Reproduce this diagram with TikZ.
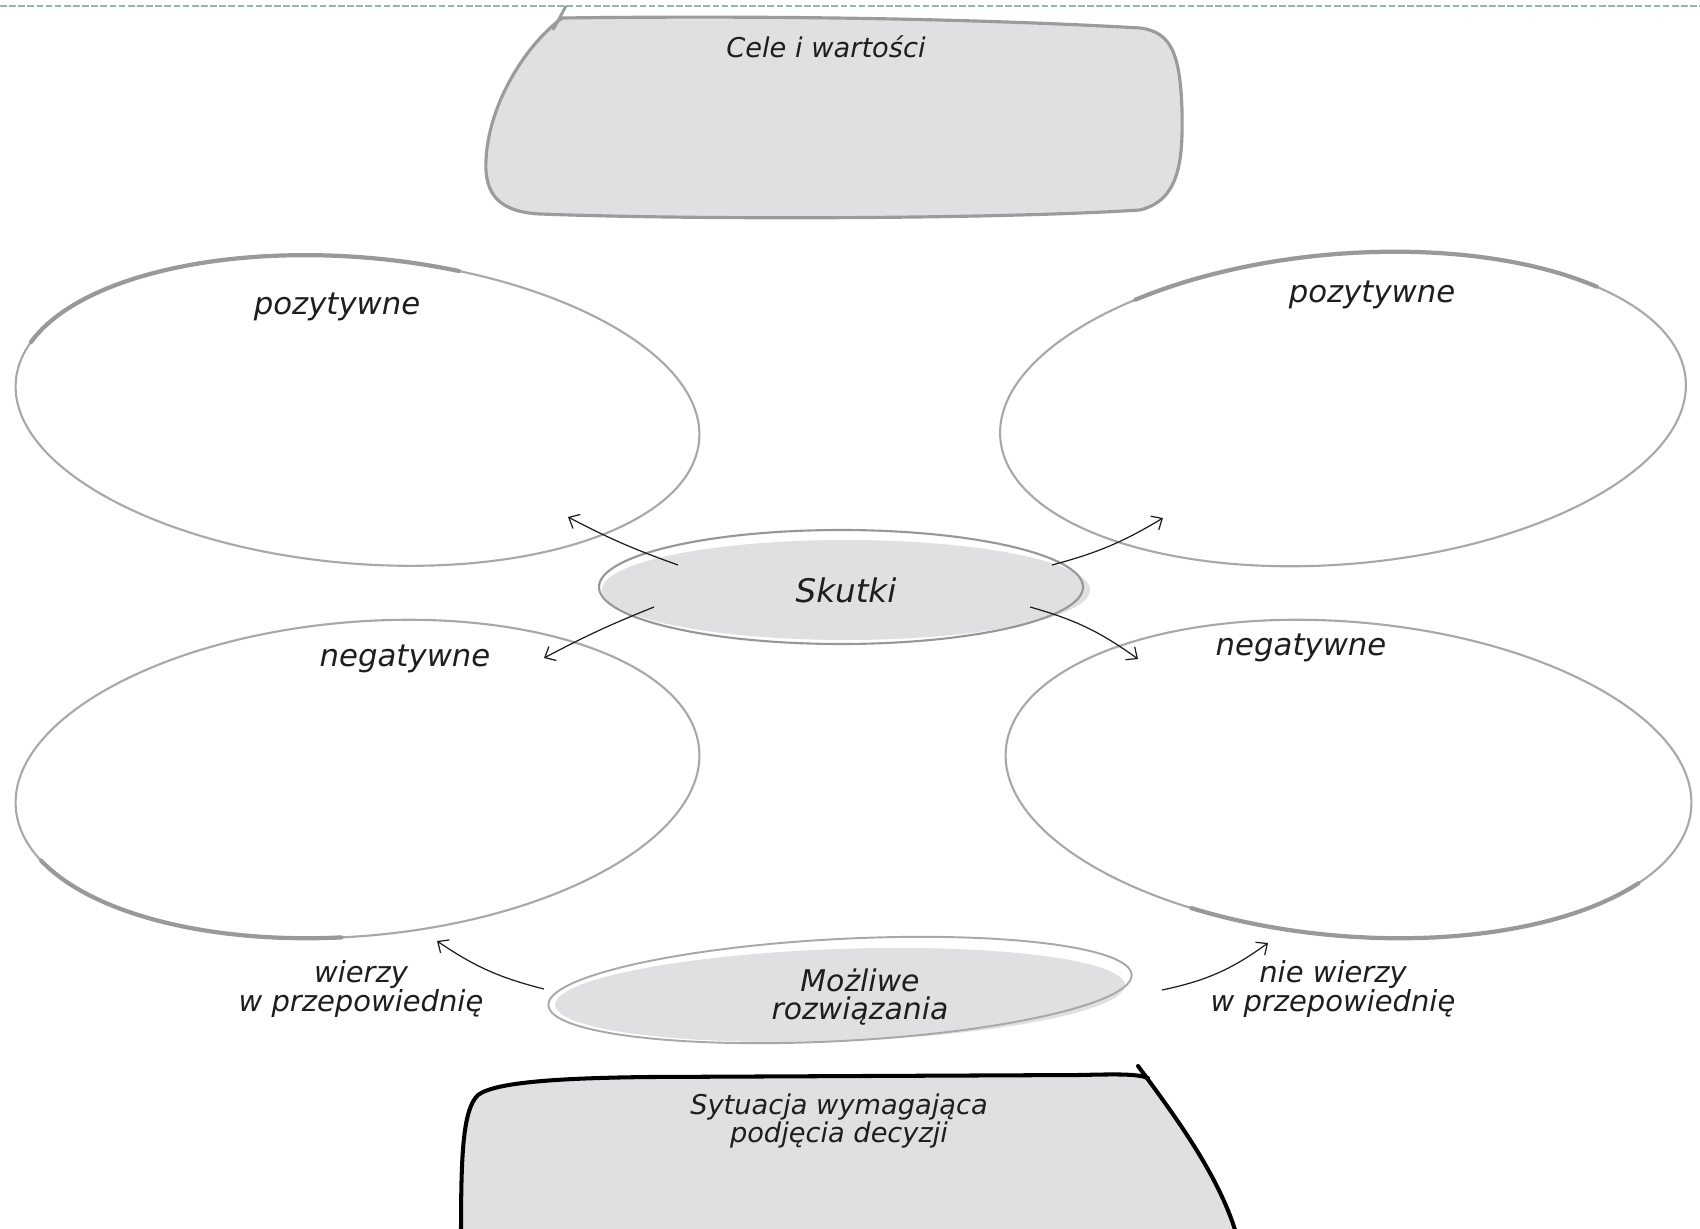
\documentclass[tikz,border=0pt]{standalone}
\usepackage{fontspec}
\setmainfont{DejaVu Sans}
\usetikzlibrary{arrows.meta,calc,shapes.geometric}
\definecolor{boxgray}{HTML}{E0E0E2}
\definecolor{linegray}{HTML}{A8A8A8}
\definecolor{thickgray}{HTML}{999999}
\definecolor{dashcol}{HTML}{96B4B2}
\definecolor{ink}{HTML}{1E1E1E}
\begin{document}
\begin{tikzpicture}[x=0.02cm, y=-0.02cm,
  petal/.style={ellipse, draw=linegray, line width=1.2pt, inner sep=0pt, outer sep=0pt},
  petalthick/.style={draw=thickgray, line width=2.4pt, line cap=round},
  txt/.style={text=ink, align=center, inner sep=0pt},
  arr/.style={-{Straight Barb[length=5pt,width=9pt]}, line width=0.7pt, draw=ink},
  graybox/.style={fill=boxgray, draw=linegray!92!black, line width=1.8pt}
]
\fill[white] (0,0) rectangle (1700,1229);
\useasboundingbox (0,0) rectangle (1700,1229);

% dashed top rule
\draw[dashcol, line width=1.5pt, dash pattern=on 3.8pt off 1.4pt] (0,6) -- (1700,6);

% top box
\draw[graybox] (562,18) .. controls (800,15) and (1000,20) .. (1140,28)
  .. controls (1172,32) and (1180,55) .. (1182,110)
  .. controls (1183,160) and (1180,200) .. (1140,210)
  .. controls (1000,219) and (700,220) .. (540,214)
  .. controls (500,212) and (484,195) .. (486,160)
  .. controls (488,110) and (520,50) .. (562,18) -- cycle;
\draw[linegray!92!black, line width=1.6pt] (553,30) -- (566,6);
\node[txt, font=\itshape\fontsize{15.5}{15.5}\selectfont] (cele) at (826,47) {Cele i wartości};

% petals
\node[petal, rotate=-5, minimum width=13.72cm, minimum height=6.12cm] (tl) at (357.5,410.5) {};
\node[petal, rotate=5,  minimum width=13.76cm, minimum height=6.2cm]  (tr) at (1343,409) {};
\node[petal, rotate=5,  minimum width=13.72cm, minimum height=6.28cm] (bl) at (357.5,779) {};
\node[petal, rotate=-5, minimum width=13.76cm, minimum height=6.28cm] (br) at (1348.5,779) {};

\begin{scope}[shift={(tl.center)}, rotate=-5]
  \draw[petalthick] ({343*cos(-165)},{153*sin(-165)}) arc[start angle=-165, end angle=-75, x radius=343, y radius=153];
\end{scope}
\begin{scope}[shift={(tr.center)}, rotate=5]
  \draw[petalthick] ({344*cos(-125)},{155*sin(-125)}) arc[start angle=-125, end angle=-40, x radius=344, y radius=155];
\end{scope}
\begin{scope}[shift={(bl.center)}, rotate=5]
  \draw[petalthick] ({343*cos(160)},{157*sin(160)}) arc[start angle=160, end angle=95, x radius=343, y radius=157];
\end{scope}
\begin{scope}[shift={(br.center)}, rotate=-5]
  \draw[petalthick] ({344*cos(115)},{157*sin(115)}) arc[start angle=115, end angle=30, x radius=344, y radius=157];
\end{scope}

\node[txt, font=\itshape\fontsize{17.5}{17.5}\selectfont] (p1) at (337,307) {pozytywne};
\node[txt, font=\itshape\fontsize{17.5}{17.5}\selectfont] (p2) at (1372,295) {pozytywne};
\node[txt, font=\itshape\fontsize{17.5}{17.5}\selectfont] (n1) at (405,659) {negatywne};
\node[txt, font=\itshape\fontsize{17.5}{17.5}\selectfont] (n2) at (1301,648) {negatywne};

% Skutki
\node[ellipse, fill=boxgray, minimum width=9.76cm, minimum height=2.0cm, inner sep=0pt,
      txt, font=\itshape\fontsize{18.5}{18.5}\selectfont] (sk) at (846,590) {Skutki};
\draw[linegray!90!black, line width=1.2pt] (841,587) ellipse[x radius=242, y radius=57];

% Mozliwe rozwiazania
\node[ellipse, fill=boxgray, rotate=2, minimum width=11.4cm, minimum height=1.84cm, inner sep=0pt] (mr) at (840,995) {};
\draw[linegray, line width=1.1pt, rotate around={3:(840,990)}] (840,990) ellipse[x radius=292, y radius=51];
\node[txt, font=\itshape\fontsize{17}{15.5}\selectfont] (mrt) at (860,997) {Możliwe\\rozwiązania};

% arrows from Skutki
\draw[arr] ($(sk.center)+(-168,-25)$) to[bend left=4]  ($(tl.center)+(210.5,106.5)$);
\draw[arr] ($(sk.center)+(206,-25)$)  to[bend right=8] ($(tr.center)+(-180,109)$);
\draw[arr] ($(sk.center)+(-192,17)$)  to[bend right=3] ($(bl.center)+(186.5,-121)$);
\draw[arr] ($(sk.center)+(184,17)$)   to[bend left=10] ($(br.center)+(-210.5,-120)$);

% arrows from Mozliwe rozwiazania
\draw[arr] ($(mr.center)+(-296,-6)$) to[bend left=10]  ($(bl.center)+(79.5,162)$);
\draw[arr] ($(mr.center)+(322,-5)$)  to[bend right=12] ($(br.center)+(-80.5,164)$);

\node[txt, font=\itshape\fontsize{16.5}{15.5}\selectfont] (w1) at (361,989) {wierzy\\w przepowiednię};
\node[txt, font=\itshape\fontsize{16.5}{15.5}\selectfont] (w2) at (1333,989) {nie wierzy\\w przepowiednię};

% bottom box
\fill[boxgray] (461,1229) .. controls (461,1160) and (462,1110) .. (478,1095)
  .. controls (495,1082) and (560,1078) .. (650,1077) -- (1080,1075)
  .. controls (1120,1074) and (1138,1074) .. (1145,1076)
  .. controls (1178,1125) and (1222,1180) .. (1236,1229) -- cycle;
\draw[black, line width=2.3pt, line cap=round] (461,1240) .. controls (461,1160) and (462,1110) .. (478,1095)
  .. controls (495,1082) and (560,1078) .. (650,1077) -- (1080,1075)
  .. controls (1120,1074) and (1138,1074) .. (1148,1078);
\draw[black, line width=2.3pt, line cap=round] (1138,1066) .. controls (1178,1120) and (1222,1180) .. (1238,1240);
\node[txt, font=\itshape\fontsize{15.5}{15.5}\selectfont] (sit) at (839,1121) {Sytuacja wymagająca\\podjęcia decyzji};
\end{tikzpicture}
\end{document}
